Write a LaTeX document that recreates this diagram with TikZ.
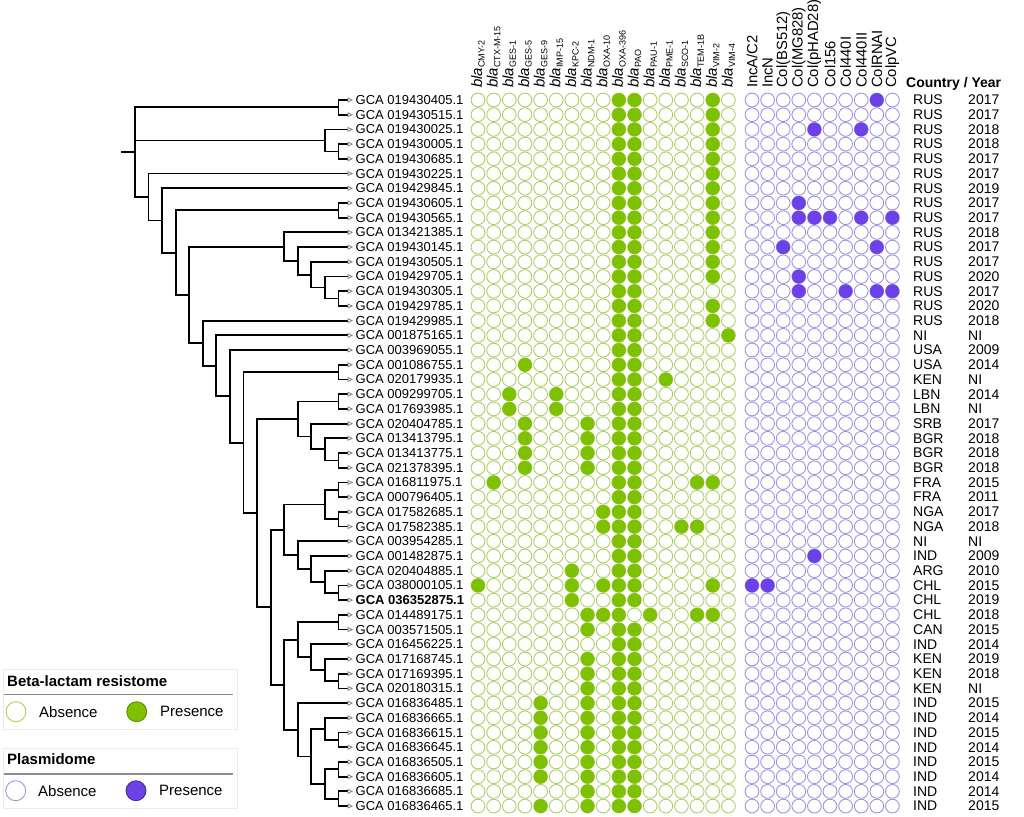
\documentclass[tikz,border=0pt]{standalone}
\usepackage{fontspec}
\setmainfont{Liberation Sans}
\usetikzlibrary{arrows.meta}

\definecolor{betafill}{RGB}{125,193,0}
\definecolor{betaring}{RGB}{170,207,100}
\definecolor{plasfill}{RGB}{108,66,232}
\definecolor{plasring}{RGB}{158,146,226}

\newcommand{\blagene}[1]{\textit{bla}\raisebox{-2.6pt}{\fontsize{9}{10}\selectfont #1}}

\begin{document}
\begin{tikzpicture}[x=1pt,y=-1pt,
  branch/.style={line width=1.8pt},
  leafedge/.style={line width=1.8pt,-{Triangle[open,length=5.5pt,width=5pt,line width=0.8pt,color=gray]}},
  leaflabel/.style={anchor=west,inner sep=0pt,font=\fontsize{13}{15}\selectfont},
  metalabel/.style={anchor=west,inner sep=0pt,font=\fontsize{14}{16}\selectfont},
  genehead/.style={rotate=90,anchor=west,inner sep=0pt,font=\fontsize{15}{17}\selectfont},
  plashead/.style={rotate=90,anchor=west,inner sep=0pt,font=\fontsize{14.8}{16}\selectfont},
  legendbox/.style={draw=black!8,line width=0.8pt},
  legendrule/.style={draw=black!45,line width=1.2pt},
  legendtitle/.style={anchor=west,inner sep=0pt,font=\bfseries\fontsize{15}{17}\selectfont},
  legendtext/.style={anchor=west,inner sep=0pt,font=\fontsize{15}{17}\selectfont}]

\useasboundingbox (0,0) rectangle (1024,816);

% column headers
\foreach \g [count=\c] in {CMY-2,CTX-M-15,GES-1,GES-5,GES-9,IMP-15,KPC-2,NDM-1,OXA-10,OXA-396,PAO,PAU-1,PME-1,SCO-1,TEM-1B,VIM-2,VIM-4}
  \node[genehead] (bh\c) at ({478+(\c-1)*15.65},88) {\blagene{\g}};
\foreach \p [count=\c] in {IncA/C2,IncN,Col(BS512),Col(MG828),Col(pHAD28),Col156,Col440I,Col440II,ColRNAI,ColpVC}
  \node[plashead] (ph\c) at ({752+(\c-1)*15.6},88) {\p};
\node[anchor=base west,inner sep=0pt,font=\bfseries\fontsize{14}{16}\selectfont] (cyhead) at (906,87) {Country / Year};

\begin{scope}[y=-14.71pt,yshift=-85.29pt]
% leaves, country and year
\foreach \r/\acc/\cty/\yr in {
  1/019430405.1/RUS/2017, 2/019430515.1/RUS/2017, 3/019430025.1/RUS/2018,
  4/019430005.1/RUS/2018, 5/019430685.1/RUS/2017, 6/019430225.1/RUS/2017,
  7/019429845.1/RUS/2019, 8/019430605.1/RUS/2017, 9/019430565.1/RUS/2017,
  10/013421385.1/RUS/2018, 11/019430145.1/RUS/2017, 12/019430505.1/RUS/2017,
  13/019429705.1/RUS/2020, 14/019430305.1/RUS/2017, 15/019429785.1/RUS/2020,
  16/019429985.1/RUS/2018, 17/001875165.1/NI/NI, 18/003969055.1/USA/2009,
  19/001086755.1/USA/2014, 20/020179935.1/KEN/NI, 21/009299705.1/LBN/2014,
  22/017693985.1/LBN/NI, 23/020404785.1/SRB/2017, 24/013413795.1/BGR/2018,
  25/013413775.1/BGR/2018, 26/021378395.1/BGR/2018, 27/016811975.1/FRA/2015,
  28/000796405.1/FRA/2011, 29/017582685.1/NGA/2017, 30/017582385.1/NGA/2018,
  31/003954285.1/NI/NI, 32/001482875.1/IND/2009, 33/020404885.1/ARG/2010,
  34/038000105.1/CHL/2015, 35/036352875.1/CHL/2019, 36/014489175.1/CHL/2018,
  37/003571505.1/CAN/2015, 38/016456225.1/IND/2014, 39/017168745.1/KEN/2019,
  40/017169395.1/KEN/2018, 41/020180315.1/KEN/NI, 42/016836485.1/IND/2015,
  43/016836665.1/IND/2014, 44/016836615.1/IND/2015, 45/016836645.1/IND/2014,
  46/016836505.1/IND/2015, 47/016836605.1/IND/2014, 48/016836685.1/IND/2014,
  49/016836465.1/IND/2015}{
  \coordinate (t\r) at (353,\r);
  \node[leaflabel] (lab\r) at (355.5,\r) {\ifnum\r=35\bfseries\fi GCA \acc};
  \node[metalabel] (cty\r) at (913,\r) {\cty};
  \node[metalabel] (yr\r) at (968,\r) {\yr};
  \foreach \c in {1,...,17}
    \draw[betaring,line width=0.9pt] ({478+(\c-1)*15.65},\r) circle[radius=6.9pt];
  \foreach \c in {1,...,10}
    \draw[plasring,line width=0.9pt] ({752+(\c-1)*15.6},\r) circle[radius=6.9pt];
}

% presence
\foreach \c/\rows in {1/{34},2/{27},3/{21,22},4/{19,23,24,25,26},5/{42,43,44,45,46,47,49},
  6/{21,22},7/{33,34,35},8/{23,24,25,26,36,37,39,40,41,42,43,44,45,46,47,48,49},
  9/{29,30,34,36},10/{1,...,49},11/{1,...,35,37,38,...,49},12/{36},13/{20},14/{30},
  15/{27,30,36},16/{1,...,13,15,16,27,34,36},17/{17}}
  {\foreach \r in \rows {\fill[betafill] ({478+(\c-1)*15.65},\r) circle[radius=6.9pt];}}
\foreach \c/\rows in {1/{34},2/{34},3/{11},4/{8,9,13,14},5/{3,9,32},6/{9},7/{14},
  8/{3,9},9/{1,11,14},10/{9,14}}
  {\foreach \r in \rows {\fill[plasfill] ({752+(\c-1)*15.6},\r) circle[radius=6.9pt];}}

% tree
\coordinate (stub) at (121,4.547);
\coordinate (root) at (135,4.547);
\coordinate (nA) at (338.44,1.5);
\coordinate (nB) at (324.88,3.75);
\coordinate (nC) at (338.44,4.5);
\coordinate (nD) at (148.56,7.594);
\coordinate (nE) at (162.13,9.188);
\coordinate (nF) at (175.69,11.376);
\coordinate (nG) at (338.44,8.5);
\coordinate (nH) at (189.25,14.253);
\coordinate (nI) at (284.19,10.969);
\coordinate (nK) at (297.75,11.938);
\coordinate (nL) at (311.31,12.875);
\coordinate (nM) at (324.88,13.75);
\coordinate (nN) at (338.44,14.5);
\coordinate (nJ) at (202.81,17.537);
\coordinate (nO) at (216.38,19.073);
\coordinate (nP) at (229.94,21.146);
\coordinate (nQ) at (243.5,24.293);
\coordinate (nR) at (338.44,19.5);
\coordinate (nS) at (257.06,29.086);
\coordinate (nU) at (297.75,22.688);
\coordinate (nR2) at (338.44,21.5);
\coordinate (nW) at (311.31,23.875);
\coordinate (nX) at (324.88,24.75);
\coordinate (nR3) at (338.44,25.5);
\coordinate (nV) at (270.63,35.484);
\coordinate (nY) at (284.19,30.219);
\coordinate (nZ) at (324.88,28.5);
\coordinate (nZ1) at (338.44,27.5);
\coordinate (nZ2) at (338.44,29.5);
\coordinate (nAA) at (297.75,31.938);
\coordinate (nAB) at (311.31,32.875);
\coordinate (nAC) at (324.88,33.75);
\coordinate (nAC1) at (338.44,34.5);
\coordinate (nAD) at (284.19,40.75);
\coordinate (nAE) at (297.75,37.688);
\coordinate (nAE1) at (338.44,36.5);
\coordinate (nAF) at (311.31,38.875);
\coordinate (nAG) at (324.88,39.75);
\coordinate (nAG1) at (338.44,40.5);
\coordinate (nAH) at (297.75,43.813);
\coordinate (nAI) at (311.31,45.625);
\coordinate (nAJ) at (324.88,43.75);
\coordinate (nAJ1) at (338.44,44.5);
\coordinate (nAK) at (324.88,47.5);
\coordinate (nAK1) at (338.44,46.5);
\coordinate (nAK2) at (338.44,48.5);

\draw[branch] (stub) -- (root);
\foreach \a/\b in {root/nA,root/nB,root/nD,nB/nC,nD/nE,nE/nF,nF/nG,nF/nH,nH/nI,nH/nJ,
  nI/nK,nK/nL,nL/nM,nM/nN,nJ/nO,nO/nP,nP/nQ,nQ/nR,nQ/nS,nS/nU,nS/nV,nU/nR2,nU/nW,
  nW/nX,nX/nR3,nV/nY,nV/nAD,nY/nZ,nY/nAA,nZ/nZ1,nZ/nZ2,nAA/nAB,nAB/nAC,nAC/nAC1,
  nAD/nAE,nAD/nAH,nAE/nAE1,nAE/nAF,nAF/nAG,nAG/nAG1,nAH/nAI,nAI/nAJ,nAI/nAK,
  nAJ/nAJ1,nAK/nAK1,nAK/nAK2}
  \draw[branch] (\a) |- (\b);
\foreach \a/\b in {nA/1,nA/2,nB/3,nC/4,nC/5,nD/6,nE/7,nG/8,nG/9,nI/10,nK/11,nL/12,
  nM/13,nN/14,nN/15,nJ/16,nO/17,nP/18,nR/19,nR/20,nR2/21,nR2/22,nW/23,nX/24,
  nR3/25,nR3/26,nZ1/27,nZ1/28,nZ2/29,nZ2/30,nAA/31,nAB/32,nAC/33,nAC1/34,nAC1/35,
  nAE1/36,nAE1/37,nAF/38,nAG/39,nAG1/40,nAG1/41,nAH/42,nAJ/43,nAJ1/44,nAJ1/45,
  nAK1/46,nAK1/47,nAK2/48,nAK2/49}
  \draw[leafedge] (\a) |- (t\b);
\end{scope}

% legend
\draw[legendbox] (3,669) rectangle (237,729);
\node[legendtitle] (betatitle) at (7,681) {Beta-lactam resistome};
\draw[legendrule] (4,694.5) -- (233,694.5);
\draw[betaring,line width=0.9pt] (16,711.7) circle[radius=10pt];
\node[legendtext] (betaabs) at (39,711.7) {Absence};
\draw[fill=betafill,draw=betafill!70!black,line width=0.8pt] (136.7,711.7) circle[radius=10pt];
\node[legendtext] (betapres) at (160,711.7) {Presence};

\draw[legendbox] (3,748) rectangle (237,808);
\node[legendtitle] (plastitle) at (7,759.5) {Plasmidome};
\draw[legendrule] (4,774) -- (233,774);
\draw[plasring,line width=0.9pt] (15.7,790.7) circle[radius=10pt];
\node[legendtext] (plasabs) at (38,790.7) {Absence};
\draw[fill=plasfill,draw=plasfill!60!black,line width=0.8pt] (136,790.7) circle[radius=10pt];
\node[legendtext] (plaspres) at (159,790.7) {Presence};
\end{tikzpicture}
\end{document}
